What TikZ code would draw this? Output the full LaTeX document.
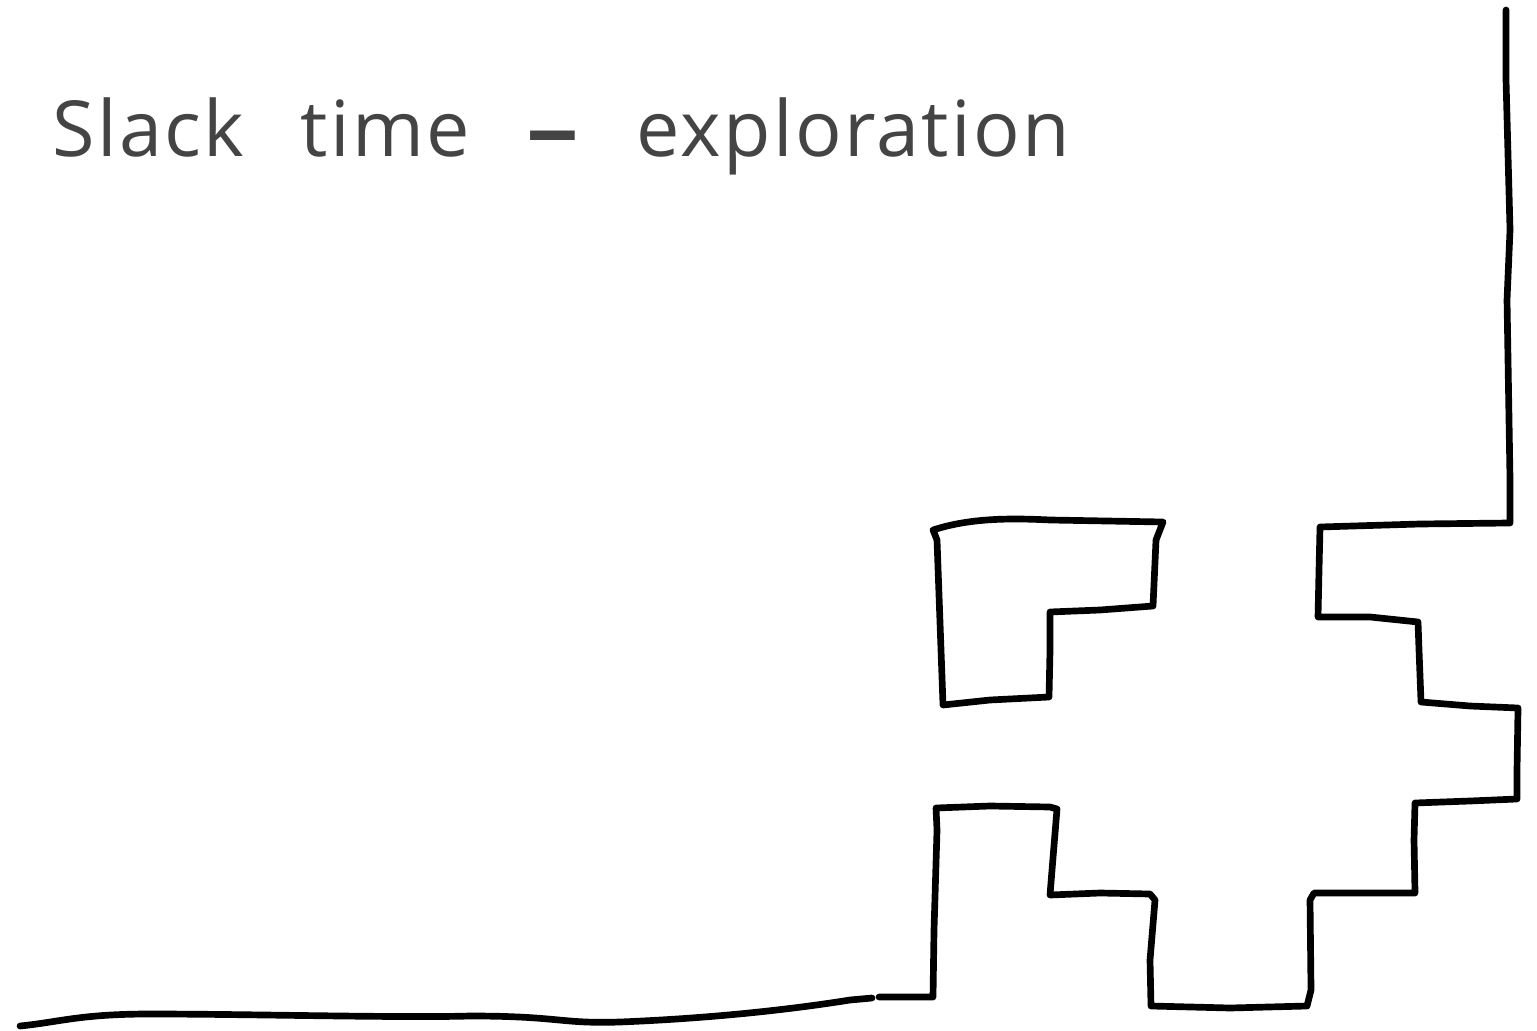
\documentclass[tikz,border=0pt]{standalone}
\usepackage{graphicx}
\usepackage{fontspec}
\setmainfont{Open Sans}[LetterSpace=3,WordSpace=2.5]
\definecolor{titlegrey}{HTML}{444444}
\begin{document}
\begin{tikzpicture}[x=0.01cm,y=-0.01cm,
  ink/.style={line width=1.9pt,line join=round,line cap=round,black},
  titletext/.style={text=titlegrey,font=\fontsize{22}{26}\selectfont,inner sep=0pt,anchor=base west}]
\useasboundingbox (0,0) rectangle (1537,1031);
\node[titletext] (title) at (52,157) {Slack time {\bfseries\scalebox{2.2}[1]{-}} exploration};
% long outline: bottom edge, staircase, right edge
\coordinate (start) at (20,1026);
\coordinate (gapL) at (872,998);
\coordinate (gapR) at (879,997);
\coordinate (topend) at (1506,10);
\draw[ink] (start) .. controls (60,1022) and (80,1014) .. (150,1014)
  .. controls (250,1014) and (400,1018) .. (470,1016)
  .. controls (560,1016) and (560,1024) .. (620,1022)
  .. controls (720,1018) and (800,1008) .. (850,1000) -- (gapL);
\draw[ink] (gapR) -- (933,997) -- (934,930) -- (937,830) -- (936,808)
  -- (990,806) -- (1050,807) -- (1057,809) -- (1052,870) -- (1050,895)
  -- (1100,893) -- (1150,894) -- (1155,900) -- (1150,960) -- (1151,1006)
  -- (1230,1008) -- (1307,1006) -- (1311,990) -- (1310,900) -- (1314,893)
  -- (1415,893) -- (1414,840) -- (1415,803) -- (1470,801) -- (1517,799)
  -- (1517,770) -- (1518,708) -- (1470,706) -- (1421,702) -- (1419,650)
  -- (1418,622) -- (1370,617) -- (1318,617) -- (1319,570) -- (1320,527)
  -- (1420,524) -- (1510,523) -- (1510,480) -- (1507,300) -- (1510,230)
  -- (1506,80) -- (topend);
% L-shaped block
\coordinate (la) at (933,530);
\draw[ink] (la) .. controls (970,518) and (1010,518) .. (1050,520)
  -- (1163,522) -- (1156,540) -- (1153,606) -- (1100,610) -- (1050,612)
  -- (1050,650) -- (1049,697) -- (990,700) -- (943,705) -- (941,650)
  -- (937,540) -- cycle;
\end{tikzpicture}
\end{document}
